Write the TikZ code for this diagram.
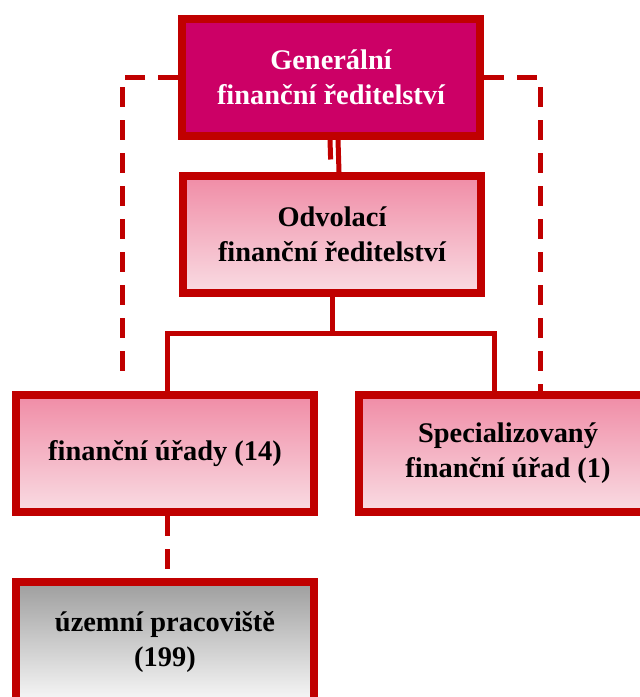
\documentclass[tikz,border=0pt]{standalone}
\usepackage{fontspec}
\setmainfont{Liberation Serif}
\definecolor{ramec}{HTML}{C00000}
\definecolor{purpur}{HTML}{CC0066}
\definecolor{ruzova}{HTML}{F08CA6}
\definecolor{ruzovasv}{HTML}{F9DCE3}
\definecolor{seda}{HTML}{9E9E9E}

\begin{document}
\begin{tikzpicture}[x=0.5pt,y=-0.5pt,
    box/.style={draw=ramec,line width=4pt,minimum width=149pt,minimum height=58.5pt,
      inner sep=0pt,align=center,font=\fontsize{14.2}{17.5}\selectfont\bfseries},
    pinkbox/.style={box,top color=ruzova,bottom color=ruzovasv},
    vetev/.style={draw=ramec,line width=2.5pt},
    carka/.style={draw=ramec,line width=2.5pt,dash pattern=on 10pt off 6.5pt}]
    \clip (0,0) rectangle (640,697);
    \node[box,fill=purpur,text=white] (gfr) at (331,77) {Generální\\finanční ředitelství};
    \node[pinkbox] (ofr) at (332,234.5) {Odvolací\\finanční ředitelství};
    \node[pinkbox] (fu) at (165,453.5) {finanční úřady (14)};
    \node[pinkbox] (sfu) at (508,453.5) {Specializovaný\\finanční úřad (1)};
    \node[box,minimum height=65pt,text depth=8pt,top color=seda,bottom color=white] (up) at (165,647) {územní pracoviště\\(199)};
    \draw[vetev] ([xshift=3.5pt]gfr.south) -- ([xshift=3.5pt]ofr.north);
    \draw[carka] ([xshift=-0.5pt]gfr.south) -- ([xshift=-0.5pt]ofr.north);
    \draw[vetev] (ofr.south) -- ++(0,36) coordinate (rozcesti);
    \draw[vetev] ([xshift=1pt]fu.north) |- (rozcesti) -| ([xshift=-7pt]sfu.north);
    \draw[carka] (gfr.west) -| ([xshift=-21.5pt,yshift=4pt]fu.north);
    \draw[carka] (gfr.east) -| ([xshift=16pt]sfu.north);
    \draw[carka] ([xshift=1pt]fu.south) -- ([xshift=1pt]up.north);
\end{tikzpicture}
\end{document}
